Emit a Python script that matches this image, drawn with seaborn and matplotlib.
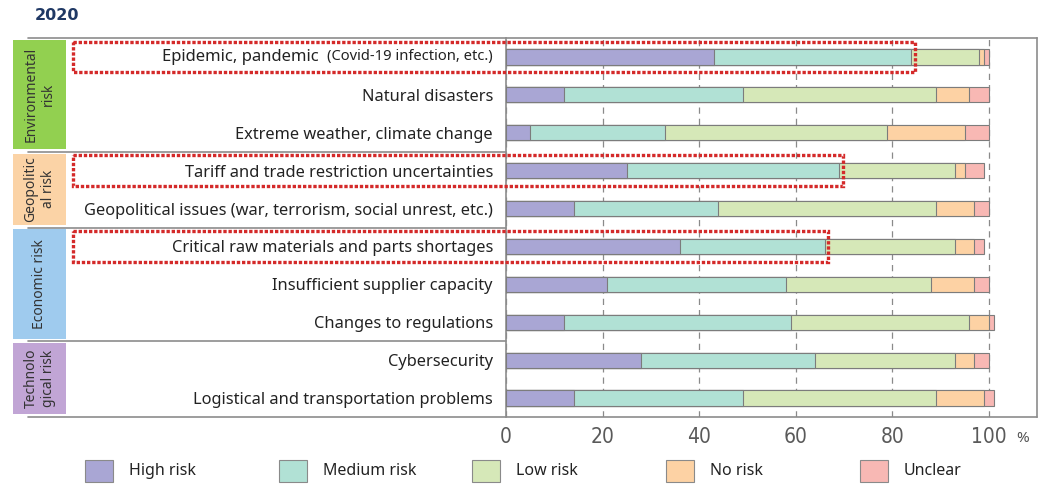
import numpy as np
import pandas as pd
import seaborn as sns
import matplotlib.pyplot as plt
from matplotlib.patches import Rectangle

# risk items, top to bottom
risk_items = [
    "Epidemic, pandemic (Covid-19 infection, etc.)",
    "Natural disasters",
    "Extreme weather, climate change",
    "Tariff and trade restriction uncertainties",
    "Geopolitical issues (war, terrorism, social unrest, etc.)",
    "Critical raw materials and parts shortages",
    "Insufficient supplier capacity",
    "Changes to regulations",
    "Cybersecurity",
    "Logistical and transportation problems",
]

# shares in %
high_risk = [43, 12, 5, 25, 14, 36, 21, 12, 28, 14]
medium_risk = [41, 37, 28, 44, 30, 30, 37, 47, 36, 35]
low_risk = [14, 40, 46, 24, 45, 27, 30, 37, 29, 40]
no_risk = [1, 7, 16, 2, 8, 4, 9, 4, 4, 10]
unclear = [1, 4, 5, 4, 3, 2, 3, 1, 3, 2]

series_names = ["High risk", "Medium risk", "Low risk", "No risk", "Unclear"]
series_colors = ["#a9a6d4", "#b1e1d5", "#d6e8b8", "#fdd2a4", "#f8b8b4"]

group_names = ["Environmental\nrisk", "Geopolitic\nal risk", "Economic risk", "Technolo\ngical risk"]
group_sizes = [3, 2, 3, 2]
group_colors = ["#92d050", "#fbd3a6", "#9fcbee", "#c1a5d5"]

highlighted = [0, 3, 5]

x_ticks = [0, 20, 40, 60, 80, 100]

sns.set_style("white")
plt.rcParams['font.family'] = ['Noto Sans', 'DejaVu Sans']

df = pd.DataFrame({
    "High risk": high_risk,
    "Medium risk": medium_risk,
    "Low risk": low_risk,
    "No risk": no_risk,
    "Unclear": unclear,
}, index=risk_items)
cum = df.cumsum(axis=1)

W, H = 1051, 491
fig = plt.figure(figsize=(W / 100, H / 100), dpi=100)
ax_left, ax_right, ax_top, ax_bot = 506, 1037, 38, 417
ax = fig.add_axes([ax_left / W, 1 - ax_bot / H, (ax_right - ax_left) / W, (ax_bot - ax_top) / H])
ax_w = ax_right - ax_left

# stacked bars: draw cumulative totals from the outermost segment inwards
for name, color in reversed(list(zip(series_names, series_colors))):
    sns.barplot(x=cum[name].values, y=risk_items, orient="y", color=color,
                saturation=1, width=0.4, edgecolor="#7c7c7c", linewidth=0.8,
                errorbar=None, ax=ax, zorder=3)

ax.set_xlim(0, 110)
ax.set_ylim(9.5, -0.5)
ax.set_xlabel("")
ax.set_ylabel("")
ax.set_xticks(x_ticks)
ax.set_xticklabels([str(t) for t in x_ticks], family="DejaVu Sans", stretch="condensed",
                   fontsize=15, color="#5a5a5a")
ax.set_yticks(range(len(risk_items)))
ax.set_yticklabels([""] + risk_items[1:], fontsize=11.8, color="#222222")
ax.tick_params(axis="y", length=0, pad=9.4)
ax.tick_params(axis="x", length=0, pad=7)
ax.xaxis.grid(True, linestyle=(0, (5, 4)), color="#8a8a8a", linewidth=0.9)
ax.yaxis.grid(False)
ax.set_axisbelow(True)

for side in ["top", "bottom"]:
    ax.spines[side].set_visible(False)
for side in ["left", "right"]:
    ax.spines[side].set_color("#8c8c8c")
    ax.spines[side].set_linewidth(1.2)

# epidemic label with smaller note in brackets
lab_x = -13 / ax_w
note = ax.text(lab_x, 0, "(Covid-19 infection, etc.)", transform=ax.get_yaxis_transform(),
               ha="right", va="center", fontsize=10.6, color="#222222")
ax.annotate("Epidemic, pandemic  ", xy=(0, 0.5), xycoords=note, ha="right", va="center",
            fontsize=12, color="#222222")

# frame lines reaching into the label area
frame_left = (28 - ax_left) / ax_w
for y in [0, 1]:
    ax.plot([frame_left, 1], [y, y], transform=ax.transAxes, color="#8c8c8c", lw=1.2, clip_on=False)
bounds = np.cumsum(group_sizes)[:-1] - 0.5
for b in bounds:
    ax.plot([frame_left, 0], [b, b], transform=ax.get_yaxis_transform(), color="#8c8c8c",
            lw=1.2, clip_on=False)

# group boxes on the left
box_x0 = (13 - ax_left) / ax_w
box_w = (66 - 13) / ax_w
start = 0
for gname, gsize, gcolor in zip(group_names, group_sizes, group_colors):
    y0 = start - 0.5 + 0.05
    ax.add_patch(Rectangle((box_x0, y0), box_w, gsize - 0.12, transform=ax.get_yaxis_transform(),
                           facecolor=gcolor, edgecolor="none", clip_on=False))
    ax.text(box_x0 + box_w / 2, y0 + (gsize - 0.12) / 2, gname, transform=ax.get_yaxis_transform(),
            rotation=90, ha="center", va="center", multialignment="center",
            fontsize=10, color="#333333")
    start += gsize

# red dotted highlight boxes
box_left = (73 - ax_left) / ax_w * 110
for i in highlighted:
    right = high_risk[i] + medium_risk[i] + 0.8
    ax.add_patch(Rectangle((box_left, i - 0.4), right - box_left, 0.8, fill=False,
                           edgecolor="#d42a2a", linewidth=2.4, linestyle=(0, (1, 0.55)),
                           clip_on=False, zorder=5))

fig.text(1023 / W, 1 - 438 / H, "%", ha="center", va="center", fontsize=11, color="#555555")
fig.text(35 / W, 1 - 15 / H, "2020", ha="left", va="center", fontsize=11.5,
         family="DejaVu Sans", fontweight="bold", color="#1f3864")

# legend
for k, (name, color) in enumerate(zip(series_names, series_colors)):
    px = 85 + 193.7 * k
    fig.add_artist(Rectangle((px / W, 1 - 482 / H), 28 / W, 22 / H, transform=fig.transFigure,
                             facecolor=color, edgecolor="#8a8a8a", linewidth=0.8))
    fig.text((px + 44) / W, 1 - 471 / H, name, ha="left", va="center", fontsize=11.5,
             color="#222222")

fig.savefig("out.png", dpi=100)
